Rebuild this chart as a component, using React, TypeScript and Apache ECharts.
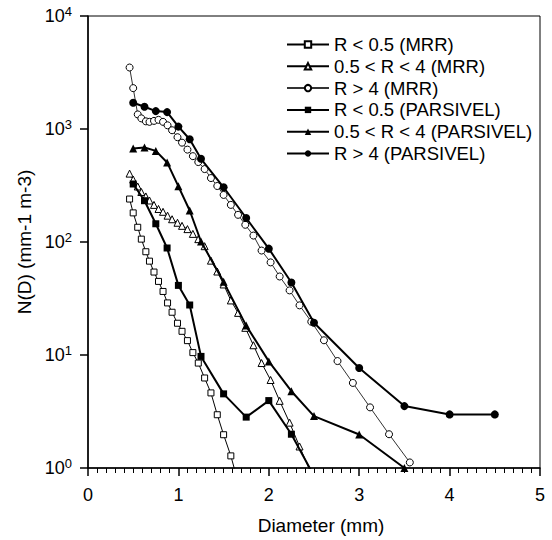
import React, { useEffect, useRef } from "react";
import * as echarts from "echarts";

const FONT = "'Liberation Sans', Arial, Helvetica, sans-serif";

const SERIES_NAMES = [
  "R < 0.5 (MRR)",
  "0.5 < R < 4 (MRR)",
  "R > 4 (MRR)",
  "R < 0.5 (PARSIVEL)",
  "0.5 < R < 4 (PARSIVEL)",
  "R > 4 (PARSIVEL)",
];

// MRR diameter bins (mm)
const X_MRR = [
  0.46, 0.5, 0.55, 0.59, 0.64, 0.68, 0.73, 0.78, 0.83, 0.88, 0.93, 0.99, 1.04,
  1.1, 1.16, 1.22, 1.29, 1.36, 1.43, 1.5, 1.58, 1.66, 1.74, 1.83, 1.92, 2.02,
  2.12, 2.23, 2.34, 2.47, 2.61, 2.76, 2.93, 3.12, 3.33, 3.56,
];
const MRR_LOW = [
  240, 181, 135, 106, 82, 67.7, 54.2, 44.8, 36.5, 28.9, 23.9, 19.1, 16.2, 13.4,
  10.5, 8.48, 6.26, 4.62, 2.96, 1.97, 1.28, 0.75,
];
const MRR_MID = [
  403, 357, 310, 277, 253, 233, 213, 196, 185, 171, 159, 148, 139, 130, 118, 106,
  91.8, 68.4, 54.8, 42.1, 30.4, 23.6, 17.4, 12.2, 8.49, 6.01, 3.93, 2.52, 1.55,
  0.89,
];
const MRR_HIGH = [
  3500, 2300, 1346, 1242, 1169, 1157, 1180, 1205, 1157, 1078, 975, 846, 757, 657,
  575, 510, 442, 368, 313, 261, 213, 174, 142, 114, 84, 66, 49.5, 37.3, 27.5,
  19.7, 13.5, 8.84, 5.66, 3.44, 1.99, 1.12,
];

// PARSIVEL diameter classes (mm)
const X_PAR = [0.5, 0.625, 0.75, 0.875, 1.0, 1.125, 1.25, 1.5, 1.75, 2.0, 2.25, 2.5, 3.0, 3.5, 4.0, 4.5];
const PAR_LOW = [326, 232, 145, 88.5, 41.3, 27.7, 9.72, 4.53, 2.82, 3.95, 1.99, 0.85];
const PAR_MID = [672, 686, 640, 506, 311, 190, 101, 44.4, 18.2, 8.78, 4.78, 2.88, 1.98, 1.0];
const PAR_HIGH = [1708, 1574, 1440, 1411, 1050, 811, 545, 305, 163, 87.3, 43.8, 19.3, 7.67, 3.53, 2.98, 2.98];

const X_TICKS = [0, 1, 2, 3, 4, 5];
const Y_DECADES = [1, 10, 100, 1000, 10000];

function pairs(xs: number[], ys: number[]) {
  return ys.map((y, i) => [xs[i], y]);
}

export default function App() {
  const ref = useRef<HTMLDivElement>(null);

  useEffect(() => {
    if (!ref.current) return;
    const chart = echarts.init(ref.current, undefined, { renderer: "svg" });

    const mrr = (name: string, data: number[][], symbol: string, size: number, lineColor: string) => ({
      type: "line",
      name,
      data,
      symbol,
      symbolSize: size,
      showAllSymbol: true,
      clip: true,
      itemStyle: { color: "#fff", borderColor: "#000", borderWidth: 1 },
      lineStyle: { color: lineColor, width: 1 },
      z: 2,
    });
    const par = (name: string, data: number[][], symbol: string, size: number) => ({
      type: "line",
      name,
      data,
      symbol,
      symbolSize: size,
      showAllSymbol: true,
      clip: true,
      itemStyle: { color: "#000", borderColor: "#000", borderWidth: 0 },
      lineStyle: { color: "#000", width: 2 },
      z: 3,
    });

    const option: any = {
      animation: false,
      backgroundColor: "#fff",
      textStyle: { fontFamily: FONT },
      grid: {
        left: 88,
        top: 16,
        width: 452,
        height: 454.5,
        show: true,
        borderColor: "#000",
        borderWidth: 1,
        backgroundColor: "transparent",
      },
      legend: {
        orient: "vertical",
        left: 281,
        top: 30,
        itemWidth: 42,
        itemHeight: 8,
        itemGap: 2.8,
        data: SERIES_NAMES,
        textStyle: { fontSize: 18.5, color: "#000", fontFamily: FONT, lineHeight: 18 },
      },
      xAxis: {
        type: "value",
        min: X_TICKS[0],
        max: X_TICKS[X_TICKS.length - 1],
        interval: 1,
        axisLine: { show: true, lineStyle: { color: "#000", width: 1.5 } },
        axisTick: { show: true, length: 8, lineStyle: { color: "#000", width: 1.5 } },
        minorTick: { show: true, splitNumber: 10, length: 5, lineStyle: { color: "#000", width: 1 } },
        splitLine: { show: false },
        axisLabel: { color: "#000", fontSize: 18, fontFamily: FONT, margin: 18 },
        name: "Diameter (mm)",
        nameLocation: "middle",
        nameGap: 48,
        nameTextStyle: { color: "#000", fontSize: 19, fontFamily: FONT, padding: [0, 0, 0, 14] },
      },
      yAxis: {
        type: "log",
        logBase: 10,
        min: Y_DECADES[0],
        max: Y_DECADES[Y_DECADES.length - 1],
        axisLine: { show: true, lineStyle: { color: "#000", width: 1.5 } },
        axisTick: { show: true, length: 8, lineStyle: { color: "#000", width: 1.5 } },
        minorTick: { show: false },
        splitLine: { show: false },
        axisLabel: {
          color: "#000",
          margin: 16,
          formatter: (v: number) => `{a|10}{b|${Math.round(Math.log10(v))}}`,
          rich: {
            a: { fontSize: 18, fontFamily: FONT, color: "#000" },
            b: { fontSize: 13, fontFamily: FONT, color: "#000", padding: [0, 0, 9, 0] },
          },
        },
        name: "N(D) (mm-1 m-3)",
        nameLocation: "middle",
        nameRotate: 90,
        nameGap: 54,
        nameTextStyle: { color: "#000", fontSize: 19, fontFamily: FONT },
      },
      series: [
        mrr(SERIES_NAMES[0], pairs(X_MRR, MRR_LOW), "rect", 6, "#000"),
        mrr(SERIES_NAMES[1], pairs(X_MRR, MRR_MID), "triangle", 7, "#000"),
        mrr(SERIES_NAMES[2], pairs(X_MRR, MRR_HIGH), "circle", 7, "#333"),
        par(SERIES_NAMES[3], pairs(X_PAR, PAR_LOW), "rect", 7),
        par(SERIES_NAMES[4], pairs(X_PAR, PAR_MID), "triangle", 8),
        par(SERIES_NAMES[5], pairs(X_PAR, PAR_HIGH), "circle", 8),
      ],
    };

    chart.setOption(option);
    return () => chart.dispose();
  }, []);

  return (
    <div
      ref={ref}
      style={{ position: "absolute", left: 0, top: 0, width: 552, height: 540 }}
    />
  );
}
